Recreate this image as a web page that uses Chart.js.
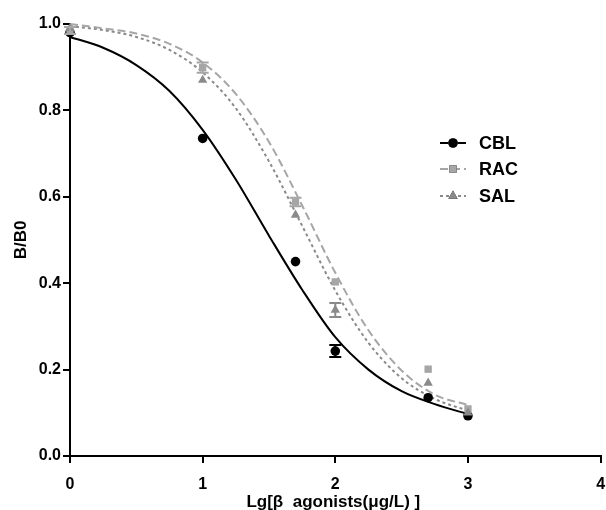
<!DOCTYPE html>
<html>
<head>
<meta charset="utf-8">
<script src="https://cdn.jsdelivr.net/npm/chart.js@4.4.1/dist/chart.umd.min.js"></script>
<style>
html,body{margin:0;padding:0;background:#fff;}
#wrap{width:606px;height:510px;position:relative;}
</style>
</head>
<body>
<div id="wrap"><canvas id="c" width="606" height="510"></canvas></div>
<script>
// ---- data ----
const seriesNames = ["CBL", "RAC", "SAL"];
const xPoints = [0, 1, 1.7, 2, 2.7, 3];
const cblVals = [0.980, 0.735, 0.450, 0.243, 0.135, 0.093];
const racVals = [0.985, 0.899, 0.588, 0.403, 0.201, 0.109];
const salVals = [0.990, 0.870, 0.558, 0.338, 0.169, 0.100];
const cblErr = [0, 0, 0, 0.014, 0, 0];
const racErr = [0.008, 0.012, 0.010, 0, 0, 0];
const salErr = [0, 0, 0, 0.016, 0, 0];
// fitted curves, read at regular x positions
const curveX = [0, 0.25, 0.5, 0.75, 1, 1.25, 1.5, 1.75, 2, 2.25, 2.5, 2.75, 3];
const cblFit = [0.970, 0.945, 0.905, 0.845, 0.755, 0.640, 0.510, 0.385, 0.275, 0.200, 0.150, 0.120, 0.097];
const racFit = [1.000, 0.990, 0.978, 0.954, 0.911, 0.838, 0.727, 0.580, 0.424, 0.291, 0.198, 0.142, 0.118];
const salFit = [0.995, 0.986, 0.970, 0.940, 0.888, 0.805, 0.682, 0.533, 0.383, 0.262, 0.180, 0.132, 0.105];
const xTicks = [0, 1, 2, 3, 4];
const yTicks = [0, 0.2, 0.4, 0.6, 0.8, 1.0];
const xTitle = "Lg[β  agonists(μg/L) ]";
const yTitle = "B/B0";

const FONT = "'Liberation Sans', Arial, sans-serif";
const styles = [
  {color: '#000000', marker: 'circle', r: 4.8, dash: [], lw: 2},
  {color: '#a6a6a6', marker: 'rect', r: 5.2, dash: [8, 4], lw: 2},
  {color: '#8a8a8a', marker: 'triangle', r: 5.4, dash: [3, 3], lw: 2}
];
const vals = [cblVals, racVals, salVals];
const errs = [cblErr, racErr, salErr];
const fits = [cblFit, racFit, salFit];

const toXY = (xs, ys) => xs.map((x, i) => ({x: x, y: ys[i]}));

const datasets = [];
for (let s = 0; s < 3; s++) {
  datasets.push({
    label: seriesNames[s] + ' fit',
    data: toXY(curveX, fits[s]),
    showLine: true,
    borderColor: styles[s].color,
    borderWidth: styles[s].lw,
    borderDash: styles[s].dash,
    pointRadius: 0,
    cubicInterpolationMode: 'monotone',
    order: 10 + s,
    clip: false
  });
}
for (let s = 0; s < 3; s++) {
  datasets.push({
    label: seriesNames[s],
    data: toXY(xPoints, vals[s]),
    showLine: false,
    pointStyle: styles[s].marker,
    pointRadius: styles[s].r,
    backgroundColor: styles[s].color,
    borderColor: styles[s].color,
    borderWidth: 0,
    order: 3 - s,
    clip: false
  });
}

const customPlugin = {
  id: 'custom',
  afterDatasetsDraw(chart) {
    const ctx = chart.ctx;
    const xs = chart.scales.x, ys = chart.scales.y;
    ctx.save();
    // error bars
    for (let s = 0; s < 3; s++) {
      ctx.strokeStyle = styles[s].color;
      ctx.lineWidth = 2;
      for (let i = 0; i < xPoints.length; i++) {
        if (!errs[s][i]) continue;
        const px = xs.getPixelForValue(xPoints[i]);
        const top = ys.getPixelForValue(vals[s][i] + errs[s][i]);
        const bot = ys.getPixelForValue(vals[s][i] - errs[s][i]);
        ctx.beginPath();
        ctx.moveTo(px, top); ctx.lineTo(px, bot);
        ctx.moveTo(px - 6, top); ctx.lineTo(px + 6, top);
        ctx.moveTo(px - 6, bot); ctx.lineTo(px + 6, bot);
        ctx.stroke();
      }
    }
    // legend
    const lx0 = 440, lx1 = 466, tx = 479;
    const ly = [143, 169, 196];
    ctx.font = "bold 18px " + FONT;
    ctx.textBaseline = 'middle';
    ctx.textAlign = 'left';
    for (let s = 0; s < 3; s++) {
      const st = styles[s];
      ctx.strokeStyle = st.color;
      ctx.lineWidth = st.lw;
      ctx.setLineDash(st.dash);
      ctx.beginPath();
      ctx.moveTo(lx0, ly[s]); ctx.lineTo(lx1, ly[s]);
      ctx.stroke();
      ctx.setLineDash([]);
      Chart.helpers.drawPoint(ctx, {pointStyle: st.marker, radius: st.r, rotation: 0, borderWidth: 0},
        (lx0 + lx1) / 2, ly[s]);
      ctx.fillStyle = st.color;
      ctx.fill();
      ctx.fillStyle = '#000';
      ctx.fillText(seriesNames[s], tx, ly[s] + 1);
    }
    // axis titles
    ctx.fillStyle = '#000';
    ctx.font = "bold 17px " + FONT;
    ctx.textAlign = 'center';
    ctx.textBaseline = 'top';
    const ca = chart.chartArea;
    ctx.fillText(xTitle, (ca.left + ca.right) / 2 - 2, ca.bottom + 38);
    ctx.save();
    ctx.translate(21, (ca.top + ca.bottom) / 2);
    ctx.rotate(-Math.PI / 2);
    ctx.textBaseline = 'middle';
    ctx.fillText(yTitle, 0, 0);
    ctx.restore();
    ctx.restore();
  }
};

new Chart(document.getElementById('c'), {
  type: 'scatter',
  data: {datasets: datasets},
  options: {
    responsive: false,
    animation: false,
    devicePixelRatio: 1,
    layout: {padding: {top: 24, right: 3, left: 0, bottom: 0}},
    plugins: {legend: {display: false}, tooltip: {enabled: false}},
    scales: {
      x: {
        type: 'linear', min: 0, max: 4,
        afterBuildTicks: (sc) => { sc.ticks = xTicks.map(v => ({value: v})); },
        afterFit: (sc) => { sc.height = 54; sc.paddingLeft = 0; sc.paddingRight = 0; },
        ticks: {color: '#000', font: {family: FONT, size: 16, weight: 'bold'}, padding: 12,
                maxRotation: 0, callback: (v) => String(v)},
        grid: {drawOnChartArea: false, drawTicks: true, tickLength: 7, color: '#000', lineWidth: 2},
        border: {color: '#000', width: 2}
      },
      y: {
        type: 'linear', min: 0, max: 1,
        afterBuildTicks: (sc) => { sc.ticks = yTicks.map(v => ({value: v})); },
        afterFit: (sc) => { sc.width = 70; sc.paddingTop = 0; sc.paddingBottom = 0; },
        ticks: {color: '#000', font: {family: FONT, size: 16, weight: 'bold'}, padding: 2,
                callback: (v) => Number(v).toFixed(1)},
        grid: {drawOnChartArea: false, drawTicks: true, tickLength: 7, color: '#000', lineWidth: 2},
        border: {color: '#000', width: 2}
      }
    }
  },
  plugins: [customPlugin]
});
</script>
</body>
</html>
